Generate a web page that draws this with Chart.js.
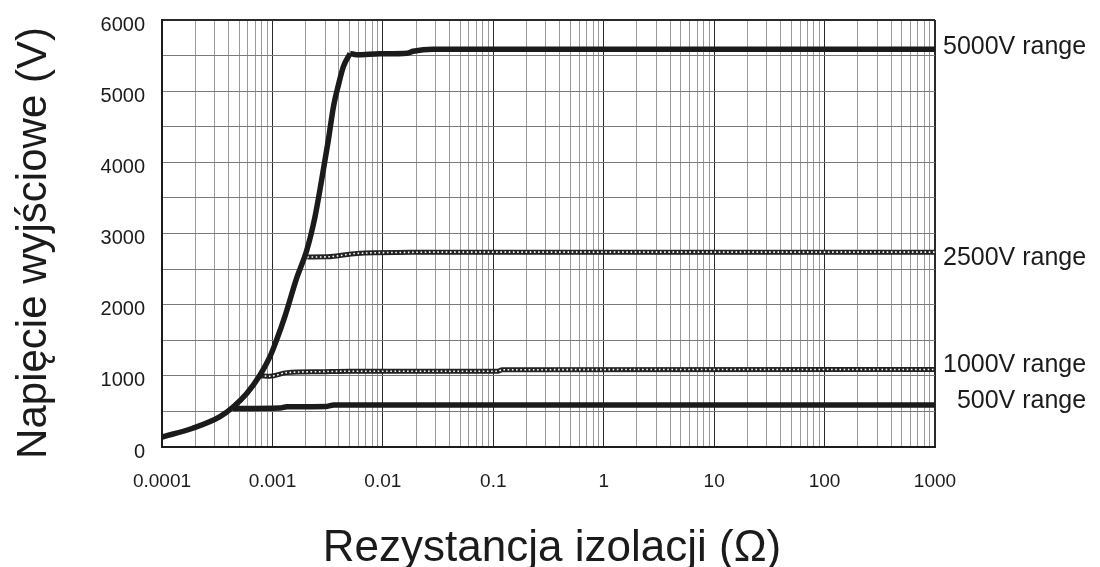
<!DOCTYPE html>
<html>
<head>
<meta charset="utf-8">
<script src="https://cdn.jsdelivr.net/npm/chart.js@4"></script>
<style>
  html, body { margin: 0; padding: 0; background: #fff; }
  #wrap { width: 1100px; height: 567px; }
</style>
</head>
<body>
<div id="wrap"><canvas id="grafico" width="1100" height="567"></canvas></div>
<script>
// Datos (x en ohmios, y en voltios)
var riseX = [0.0001, 0.00019, 0.000335, 0.000443, 0.000585, 0.000773, 0.00095, 0.00109, 0.0013, 0.00166, 0.00205, 0.00243, 0.00279, 0.00321, 0.00357, 0.00396, 0.00439, 0.00505];
var riseV = [140, 263, 426, 566, 753, 1012, 1269, 1503, 1840, 2375, 2768, 3236, 3752, 4314, 4782, 5087, 5344, 5531];

var r5000X = [0.00505, 0.0058, 0.0094, 0.0166, 0.0188, 0.0285, 1000];
var r5000V = [5531, 5510, 5525, 5534, 5560, 5590, 5590];

var r2500X = [0.00207, 0.00313, 0.00583, 0.0178, 0.03, 1000];
var r2500V = [2670, 2672, 2720, 2735, 2738, 2738];

var r1000X = [0.00078, 0.00095, 0.00135, 0.0027, 0.005, 0.11, 0.12, 1000];
var r1000V = [1000, 995, 1045, 1058, 1065, 1065, 1085, 1090];

var r500X = [0.00044, 0.00117, 0.00135, 0.0031, 0.0036, 1000];
var r500V = [540, 548, 565, 570, 590, 590];

var decadas = [0.0001, 0.001, 0.01, 0.1, 1, 10, 100, 1000];
var etiquetasX = ["0.0001", "0.001", "0.01", "0.1", "1", "10", "100", "1000"];

var nombresRango = ["5000V range", "2500V range", "1000V range", "500V range"];
var posRango = [5620, 2660, 1150, 650]; // altura (V) donde va cada texto

function puntos(xs, ys) {
    return xs.map(function (x, i) { return { x: x, y: ys[i] }; });
}

var negro = "#1b1b1b";
var fuente = "'Liberation Sans', Arial, sans-serif";

// Textos de los ejes y de los rangos
var textos = {
    id: "textos",
    afterDraw: function (chart) {
        var ctx = chart.ctx;
        var area = chart.chartArea;
        var ys = chart.scales.y;
        ctx.save();
        ctx.fillStyle = negro;

        ctx.font = "44px " + fuente;
        ctx.textAlign = "center";
        ctx.textBaseline = "alphabetic";
        ctx.fillText("Rezystancja izolacji (\u03A9)", 552, 561);

        ctx.save();
        ctx.translate(46, 243);
        ctx.rotate(-Math.PI / 2);
        ctx.font = "42px " + fuente;
        ctx.fillText("Napi\u0119cie wyj\u015Bciowe (V)", 0, 0);
        ctx.restore();

        ctx.font = "25px " + fuente;
        ctx.textBaseline = "middle";
        ctx.textAlign = "right";
        var ancho = ctx.measureText(nombresRango[0]).width;
        for (var i = 0; i < nombresRango.length; i++) {
            ctx.fillText(nombresRango[i], area.right + 8 + ancho, ys.getPixelForValue(posRango[i]));
        }
        ctx.restore();
    }
};

// Chart.js pinta el primer dataset encima de todos
var datos = {
    datasets: [
        { data: puntos(riseX, riseV), borderColor: negro, borderWidth: 5.5 },
        { data: puntos(r5000X, r5000V), borderColor: negro, borderWidth: 5.5 },
        { data: puntos(r500X, r500V), borderColor: negro, borderWidth: 5.5 },
        // lineas de "cadena": puntos blancos encima de un trazo oscuro
        { data: puntos(r2500X, r2500V), borderColor: "#ffffff", borderWidth: 1.6, borderDash: [1.6, 2.6] },
        { data: puntos(r2500X, r2500V), borderColor: "#222222", borderWidth: 5 },
        { data: puntos(r1000X, r1000V), borderColor: "#ffffff", borderWidth: 1.6, borderDash: [1.6, 2.6] },
        { data: puntos(r1000X, r1000V), borderColor: "#222222", borderWidth: 5 }
    ]
};

var grafico = new Chart(document.getElementById("grafico"), {
    type: "line",
    data: datos,
    plugins: [textos],
    options: {
        responsive: false,
        animation: false,
        events: [],
        layout: { padding: { left: 0, right: 165, top: 20, bottom: 0 } },
        elements: {
            point: { radius: 0 },
            line: { cubicInterpolationMode: "monotone", borderCapStyle: "butt", borderJoinStyle: "round" }
        },
        plugins: { legend: { display: false }, tooltip: { enabled: false } },
        scales: {
            x: {
                type: "logarithmic",
                min: 0.0001,
                max: 1000,
                afterBuildTicks: function (scale) {
                    var t = [];
                    decadas.forEach(function (d, i) {
                        if (i === decadas.length - 1) {
                            t.push({ value: d, major: true });
                            return;
                        }
                        for (var m = 1; m <= 9; m++) {
                            t.push({ value: m * d, major: m === 1 });
                        }
                    });
                    scale.ticks = t;
                },
                afterFit: function (scale) {
                    scale.height = 120;
                    scale.paddingLeft = 0;
                    scale.paddingRight = 0;
                },
                ticks: {
                    autoSkip: false,
                    maxRotation: 0,
                    padding: 23,
                    color: negro,
                    font: { family: fuente, size: 19 },
                    callback: function (value) {
                        for (var i = 0; i < decadas.length; i++) {
                            if (Math.abs(value - decadas[i]) < decadas[i] * 1e-6) return etiquetasX[i];
                        }
                        return "";
                    }
                },
                grid: {
                    drawTicks: false,
                    color: function (c) { return c.tick && c.tick.major ? "#2a2a2a" : "#9a9a9a"; },
                    lineWidth: function (c) { return c.tick && c.tick.value === 1000 ? 2 : 1; }
                },
                border: { display: true, color: negro, width: 2 }
            },
            y: {
                min: 0,
                max: 6000,
                afterFit: function (scale) {
                    scale.width = 162;
                    scale.paddingTop = 0;
                    scale.paddingBottom = 0;
                },
                ticks: {
                    stepSize: 500,
                    autoSkip: false,
                    padding: 17,
                    labelOffset: 5,
                    color: negro,
                    font: { family: fuente, size: 20 },
                    callback: function (value) { return value % 1000 === 0 ? String(value) : ""; }
                },
                grid: {
                    drawTicks: false,
                    color: function (c) { return c.tick && c.tick.value === 6000 ? "#2a2a2a" : "#7a7a7a"; },
                    lineWidth: function (c) { return c.tick && c.tick.value === 6000 ? 2 : 1; }
                },
                border: { display: true, color: negro, width: 2 }
            }
        }
    }
});
</script>
</body>
</html>
